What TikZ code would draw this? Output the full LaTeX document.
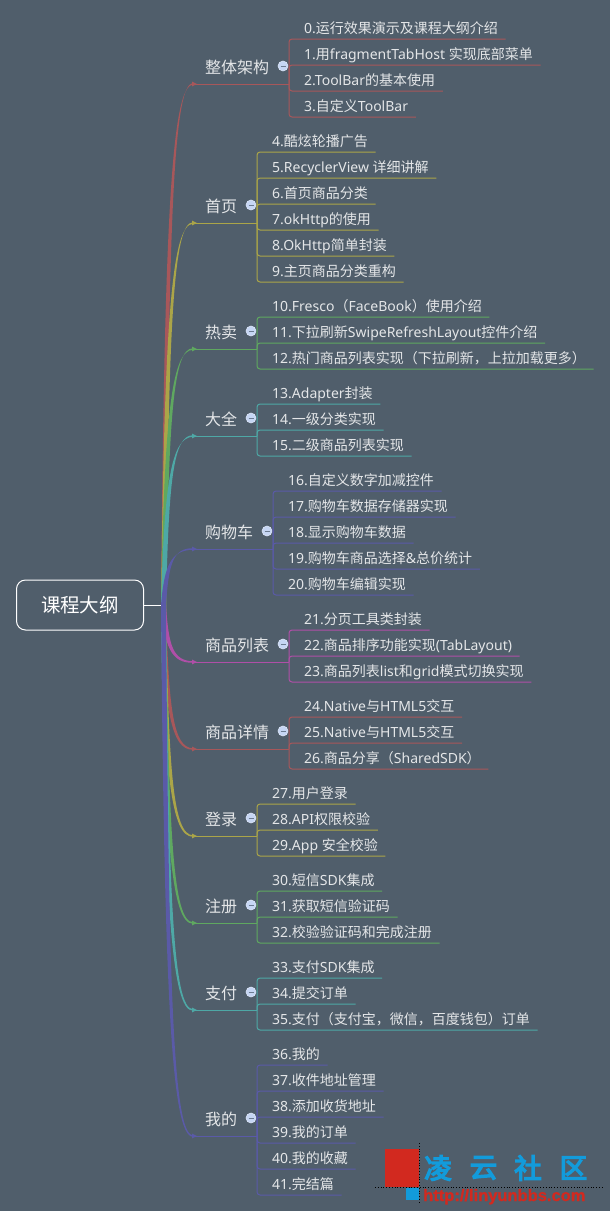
\documentclass[tikz,border=0pt]{standalone}
\usepackage{fontspec}
\setmainfont{Noto Sans}
\newfontfamily\latinf{Noto Sans}
\newfontfamily\cjkf{Noto Sans CJK SC}
\newfontfamily\wmcjk[FakeBold=5]{Noto Sans CJK SC}
\newfontfamily\urlfont[FakeBold=1]{Liberation Sans Bold}
\XeTeXinterchartokenstate=1
\newXeTeXintercharclass\cjkclass
\newcount\cjkcnt
\cjkcnt="3000
\loop\ifnum\cjkcnt<"A000 \XeTeXcharclass\cjkcnt=\cjkclass \advance\cjkcnt by 1 \repeat
\cjkcnt="FF00
\loop\ifnum\cjkcnt<"FFF0 \XeTeXcharclass\cjkcnt=\cjkclass \advance\cjkcnt by 1 \repeat
\XeTeXinterchartoks 0 \cjkclass={\cjkf}
\XeTeXinterchartoks 4095 \cjkclass={\cjkf}
\XeTeXinterchartoks \cjkclass 0={\latinf}
\usetikzlibrary{calc}
\definecolor{bgc}{HTML}{505E6B}
\definecolor{txt}{HTML}{E4E6E8}
\definecolor{cred}{HTML}{A8575A}
\definecolor{cyel}{HTML}{ABA548}
\definecolor{cgrn}{HTML}{5FA860}
\definecolor{cteal}{HTML}{4EA8A6}
\definecolor{cblu}{HTML}{5A5AA8}
\definecolor{cmag}{HTML}{B04FA8}
\definecolor{wmred}{HTML}{D2291F}
\definecolor{wmblue}{HTML}{129BDB}
\definecolor{ctrlfill}{HTML}{C6D6F4}
\definecolor{ctrlminus}{HTML}{6C7C92}
\tikzset{
  leafnode/.style={anchor=south west,inner sep=0pt,text=txt,text height=12pt,text depth=5pt,font=\fontsize{14}{16}\selectfont},
  topicnode/.style={anchor=base west,inner sep=0pt,text=txt,font=\fontsize{16}{18}\selectfont},
  ctrl/.style={circle,inner sep=0pt,minimum size=10pt,fill=ctrlfill,draw=ctrlfill!60!white,line width=.6pt,
    path picture={\draw[line width=1pt,ctrlminus] ([xshift=-2.5pt]path picture bounding box.center) -- ([xshift=2.5pt]path picture bounding box.center);}},
  rootnode/.style={draw=white,line width=1pt,rounded corners=9pt,minimum width=127pt,minimum height=50pt,text=white,inner sep=0pt,font=\fontsize{19.5}{22}\selectfont},
  conn/.style={line width=1pt,rounded corners=3pt},
  wmchar/.style={text=wmblue,inner sep=0pt,font=\wmcjk\fontsize{27.5}{30}\selectfont},
}
% \Topic{id}{text}{colour}{parent y}{bracket x}
\newcommand{\Topic}[5]{%
  \coordinate (#1-p) at (193,#4);
  \coordinate (#1-b) at (#5,#4);
  \node[topicnode] (#1) at (205,#4-11) {#2};
  \node[ctrl] (#1-c) at (#5-6,#4-18) {};
  \draw[#3,line width=1pt] (#1-p) -- (#1-b);
}
% \Leaf{topic}{id}{colour}{bracket x}{line y}{text}
\newcommand{\Leaf}[6]{%
  \node[leafnode] (#2) at (#4,#5) {\hspace*{15pt}#6\hspace*{7.5pt}};
  \draw[#3,conn] (#1-b) |- (#2.south east);
}
% \Branch{topic}{colour}{parent y}
\newcommand{\Branch}[3]{%
  \pgfmathsetmacro{\cya}{605+0.72*(#3-605)}
  \fill[#2] ($(hub)+(0,0)$) .. controls (164.4,\cya) and (171,#3+1.4) .. ($(#1-p)+(0,.7)$)
    -- ($(#1-p)+(0,-.7)$) .. controls (173,#3-1.4) and (168.6,\cya) .. ($(hub)+(5,0)$) -- cycle;
  \fill[#2] ($(#1-p)+(-1,-2.4)$) -- ($(#1-p)+(4,0)$) -- ($(#1-p)+(-1,2.4)$) -- cycle;
}
\begin{document}
\begin{tikzpicture}[x=1pt,y=-1pt]
\useasboundingbox (0,0) rectangle (610,1211);
\fill[bgc] (0,0) rectangle (610,1211);
\coordinate (hub) at (161,605);

\Topic{t1}{整体架构}{cred}{84}{289}
\Topic{t2}{首页}{cyel}{223}{257}
\Topic{t3}{热卖}{cgrn}{349}{257}
\Topic{t4}{大全}{cteal}{436}{257}
\Topic{t5}{购物车}{cblu}{549}{273}
\Topic{t6}{商品列表}{cmag}{662}{289}
\Topic{t7}{商品详情}{cred}{749}{289}
\Topic{t8}{登录}{cyel}{836}{257}
\Topic{t9}{注册}{cgrn}{923}{257}
\Topic{t10}{支付}{cteal}{1010}{257}
\Topic{t11}{我的}{cblu}{1136}{257}

\Branch{t1}{cred}{84}
\Branch{t2}{cyel}{223}
\Branch{t3}{cgrn}{349}
\Branch{t4}{cteal}{436}
\Branch{t7}{cred}{749}
\Branch{t8}{cyel}{836}
\Branch{t9}{cgrn}{923}
\Branch{t10}{cteal}{1010}
\Branch{t6}{cmag}{662}
\Branch{t5}{cblu}{549}
\Branch{t11}{cblu}{1136}

\node[rootnode] (root) at (80,605) {课程大纲};
\draw[white,line width=1pt] (root.east) -- (hub);

\Leaf{t1}{a0}{cred}{289}{39}{0.运行效果演示及课程大纲介绍}
\Leaf{t1}{a1}{cred}{289}{65}{1.用fragmentTabHost 实现底部菜单}
\Leaf{t1}{a2}{cred}{289}{91}{2.ToolBar的基本使用}
\Leaf{t1}{a3}{cred}{289}{117}{3.自定义ToolBar}

\Leaf{t2}{a4}{cyel}{257}{152}{4.酷炫轮播广告}
\Leaf{t2}{a5}{cyel}{257}{178}{5.RecyclerView 详细讲解}
\Leaf{t2}{a6}{cyel}{257}{204}{6.首页商品分类}
\Leaf{t2}{a7}{cyel}{257}{230}{7.okHttp的使用}
\Leaf{t2}{a8}{cyel}{257}{256}{8.OkHttp简单封装}
\Leaf{t2}{a9}{cyel}{257}{282}{9.主页商品分类重构}

\Leaf{t3}{a10}{cgrn}{257}{317}{10.Fresco（FaceBook）使用介绍}
\Leaf{t3}{a11}{cgrn}{257}{343}{11.下拉刷新SwipeRefreshLayout控件介绍}
\Leaf{t3}{a12}{cgrn}{257}{369}{12.热门商品列表实现（下拉刷新，上拉加载更多）}

\Leaf{t4}{a13}{cteal}{257}{404}{13.Adapter封装}
\Leaf{t4}{a14}{cteal}{257}{430}{14.一级分类实现}
\Leaf{t4}{a15}{cteal}{257}{456}{15.二级商品列表实现}

\Leaf{t5}{a16}{cblu}{273}{491}{16.自定义数字加减控件}
\Leaf{t5}{a17}{cblu}{273}{517}{17.购物车数据存储器实现}
\Leaf{t5}{a18}{cblu}{273}{543}{18.显示购物车数据}
\Leaf{t5}{a19}{cblu}{273}{569}{19.购物车商品选择\&总价统计}
\Leaf{t5}{a20}{cblu}{273}{595}{20.购物车编辑实现}

\Leaf{t6}{a21}{cmag}{289}{630}{21.分页工具类封装}
\Leaf{t6}{a22}{cmag}{289}{656}{22.商品排序功能实现(TabLayout)}
\Leaf{t6}{a23}{cmag}{289}{682}{23.商品列表list和grid模式切换实现}

\Leaf{t7}{a24}{cred}{289}{717}{24.Native与HTML5交互}
\Leaf{t7}{a25}{cred}{289}{743}{25.Native与HTML5交互}
\Leaf{t7}{a26}{cred}{289}{769}{26.商品分享（SharedSDK）}

\Leaf{t8}{a27}{cyel}{257}{804}{27.用户登录}
\Leaf{t8}{a28}{cyel}{257}{830}{28.API权限校验}
\Leaf{t8}{a29}{cyel}{257}{856}{29.App 安全校验}

\Leaf{t9}{a30}{cgrn}{257}{891}{30.短信SDK集成}
\Leaf{t9}{a31}{cgrn}{257}{917}{31.获取短信验证码}
\Leaf{t9}{a32}{cgrn}{257}{943}{32.校验验证码和完成注册}

\Leaf{t10}{a33}{cteal}{257}{978}{33.支付SDK集成}
\Leaf{t10}{a34}{cteal}{257}{1004}{34.提交订单}
\Leaf{t10}{a35}{cteal}{257}{1030}{35.支付（支付宝，微信，百度钱包）订单}

\Leaf{t11}{a36}{cblu}{257}{1065}{36.我的}
\Leaf{t11}{a37}{cblu}{257}{1091}{37.收件地址管理}
\Leaf{t11}{a38}{cblu}{257}{1117}{38.添加收货地址}
\Leaf{t11}{a39}{cblu}{257}{1143}{39.我的订单}
\Leaf{t11}{a40}{cblu}{257}{1169}{40.我的收藏}
\Leaf{t11}{a41}{cblu}{257}{1195}{41.完结篇}

% watermark
\fill[wmred] (385,1149) rectangle (419,1187);
\fill[wmblue] (406,1188) rectangle (419,1200);
\draw[black,line width=.8pt,dotted] (419.5,1143) -- (419.5,1204);
\draw[black,line width=.8pt,dotted] (375,1187.5) -- (604,1187.5);
\XeTeXinterchartokenstate=0
\node[wmchar] (w1) at (438,1168) {凌};
\node[wmchar] (w2) at (483.5,1168) {云};
\node[wmchar] (w3) at (528,1168) {社};
\node[wmchar] (w4) at (573.5,1168) {区};
\node[text=wmred,inner sep=0pt,anchor=base west,font=\urlfont\fontsize{16.5}{18}\selectfont] (wurl) at (423,1201) {http://linyunbbs.com};
\end{tikzpicture}
\end{document}
